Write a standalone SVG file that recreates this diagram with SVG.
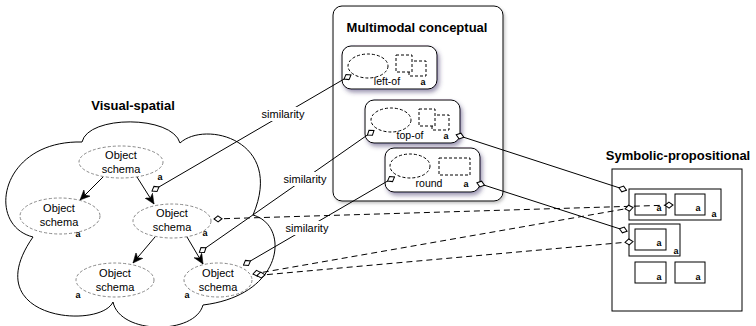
<svg xmlns="http://www.w3.org/2000/svg" width="756" height="326" viewBox="0 0 756 326">
<defs>
<style>
text{font-family:"Liberation Sans",Arial,Helvetica,sans-serif;fill:#000}
.t{font-size:11px;text-anchor:middle}
.ttl{font-size:13px;font-weight:bold;text-anchor:middle}
.a{font-size:9px;font-weight:bold;text-anchor:middle}
.sm{font-size:10.5px;text-anchor:middle}
.obj{fill:#fff;stroke:#888;stroke-width:1;stroke-dasharray:3,2}
.dsh{fill:none;stroke:#000;stroke-width:1;stroke-dasharray:3,2}
.dshw{fill:#fff;stroke:#000;stroke-width:1;stroke-dasharray:3,2}
.node{fill:#fff;stroke:#000;stroke-width:1}
.box{fill:#fff;stroke:#000;stroke-width:1}
.ln{fill:none;stroke:#000;stroke-width:1}
.dl{fill:none;stroke:#000;stroke-width:1;stroke-dasharray:6,4}
.arr{fill:none;stroke:#000;stroke-width:1;marker-end:url(#arrow)}
.sim{stroke:none;fill:#fff}
</style>
<marker id="arrow" markerUnits="userSpaceOnUse" markerWidth="11" markerHeight="9" refX="10" refY="4.5" orient="auto" viewBox="0 0 11 9">
<path d="M0,0 L10,4.5 L0,9 L3,4.5 Z" fill="#000" stroke="#000" stroke-width="0.5"/>
</marker>
<marker id="dia" markerUnits="userSpaceOnUse" markerWidth="10" markerHeight="8" refX="9" refY="4" orient="auto-start-reverse" viewBox="0 0 10 8">
<path d="M1,4 L5,1 L9,4 L5,7 Z" fill="#fff" stroke="#000" stroke-width="1"/>
</marker>
<filter id="shadow" x="-20%" y="-20%" width="150%" height="160%">
<feDropShadow dx="2" dy="3" stdDeviation="2.2" flood-color="#3c2f66" flood-opacity="0.5"/>
</filter>
<filter id="shadow2" x="-10%" y="-10%" width="130%" height="130%">
<feDropShadow dx="1.5" dy="2" stdDeviation="1.5" flood-color="#555" flood-opacity="0.35"/>
</filter>
</defs>

<!-- Visual-spatial -->
<g id="visual-spatial">
<text class="ttl" x="133" y="110">Visual-spatial</text>
<path class="ln" d="M33,237 C-15,225 0,140 82,142 C88,115 172,115 180,143 C205,120 285,140 253,215 C290,225 285,295 203,305 C195,335 120,335 113,302 C100,330 -25,320 33,237 Z" fill="#fff"/>
</g>
<g id="os1">
<ellipse class="obj" cx="121" cy="162" rx="42" ry="16"/>
<text class="t" x="121" y="159">Object</text>
<text class="t" x="121" y="172.5">schema</text>
<text class="a" x="160" y="180">a</text>
</g>
<g id="os2">
<ellipse class="obj" cx="60" cy="216" rx="40" ry="18"/>
<text class="t" x="59" y="212">Object</text>
<text class="t" x="59" y="226">schema</text>
<text class="a" x="78" y="237">a</text>
</g>
<g id="os3">
<ellipse class="obj" cx="172" cy="221" rx="39" ry="17"/>
<text class="t" x="172" y="217">Object</text>
<text class="t" x="172" y="231">schema</text>
<text class="a" x="205" y="236">a</text>
</g>
<g id="os4">
<ellipse class="obj" cx="115" cy="280" rx="39" ry="17"/>
<text class="t" x="115" y="277">Object</text>
<text class="t" x="115" y="291">schema</text>
<text class="a" x="78" y="298">a</text>
</g>
<g id="os5">
<ellipse class="obj" cx="218" cy="280" rx="34" ry="17"/>
<text class="t" x="218" y="277">Object</text>
<text class="t" x="218" y="291">schema</text>
<text class="a" x="187" y="298">a</text>
</g>

<!-- Multimodal conceptual -->
<g id="multimodal">
<rect class="box" x="333" y="6" width="170" height="195" rx="9" filter="url(#shadow2)"/>
<text class="ttl" x="417" y="32">Multimodal conceptual</text>
</g>
<g id="left-of">
<rect class="node" x="342" y="46" width="95" height="43" rx="9" filter="url(#shadow)"/>
<ellipse class="dsh" cx="368" cy="66" rx="20" ry="12"/>
<rect class="dsh" x="409" y="61" width="17" height="15"/>
<rect class="dshw" x="396" y="55" width="16" height="17"/>
<text class="sm" x="387" y="85">left-of</text>
<text class="a" x="423" y="85">a</text>
</g>
<g id="top-of">
<rect class="node" x="365" y="100" width="95" height="43" rx="9" filter="url(#shadow)"/>
<ellipse class="dsh" cx="391" cy="120" rx="20" ry="12"/>
<rect class="dsh" x="432" y="115" width="17" height="15"/>
<rect class="dshw" x="419" y="109" width="16" height="17"/>
<text class="sm" x="410" y="139">top-of</text>
<text class="a" x="446" y="139">a</text>
</g>
<g id="round">
<rect class="node" x="385" y="148" width="95" height="44" rx="9" filter="url(#shadow)"/>
<ellipse class="dsh" cx="410" cy="166" rx="20" ry="12"/>
<rect class="dsh" x="439" y="158" width="31" height="17"/>
<text class="sm" x="429" y="187">round</text>
<text class="a" x="466" y="187">a</text>
</g>

<!-- Symbolic-propositional -->
<g id="symbolic">
<text class="ttl" x="678" y="160">Symbolic-propositional</text>
<rect class="box" x="612" y="169" width="130" height="142"/>
</g>
<g id="sp-group1">
<rect class="box" x="629" y="189" width="92" height="31"/>
<text class="a" x="714" y="217">a</text>
</g>
<g id="sp-box1a">
<rect class="box" x="635" y="194" width="31" height="21"/>
<text class="a" x="659" y="211">a</text>
</g>
<g id="sp-box1b">
<rect class="box" x="675" y="194" width="30" height="21"/>
<text class="a" x="698" y="211">a</text>
</g>
<g id="sp-group2">
<rect class="box" x="629" y="224" width="51" height="32"/>
<text class="a" x="676" y="254">a</text>
</g>
<g id="sp-box2a">
<rect class="box" x="635" y="229" width="31" height="21"/>
<text class="a" x="659" y="246">a</text>
</g>
<g id="sp-box3">
<rect class="box" x="635" y="262" width="31" height="21"/>
<text class="a" x="659" y="280">a</text>
</g>
<g id="sp-box4">
<rect class="box" x="675" y="262" width="30" height="21"/>
<text class="a" x="698" y="280">a</text>
</g>

<!-- Connectors -->
<g id="connectors">
<line class="arr" x1="103" y1="177" x2="80" y2="200"/>
<line class="arr" x1="137" y1="177" x2="154" y2="204"/>
<line class="arr" x1="155" y1="237" x2="133" y2="263"/>
<line class="arr" x1="187" y1="237" x2="203" y2="264"/>

<line class="ln" x1="351" y1="75" x2="152" y2="191" marker-start="url(#dia)" marker-end="url(#dia)"/>
<line class="ln" x1="374" y1="130.4" x2="199.4" y2="252.3" marker-start="url(#dia)" marker-end="url(#dia)"/>
<line class="ln" x1="394.5" y1="177" x2="243.5" y2="265" marker-start="url(#dia)" marker-end="url(#dia)"/>

<line class="ln" x1="456.2" y1="134.8" x2="626.5" y2="190.2" marker-start="url(#dia)" marker-end="url(#dia)"/>
<line class="ln" x1="476.9" y1="182.8" x2="627.1" y2="231.2" marker-start="url(#dia)" marker-end="url(#dia)"/>

<line class="dl" x1="214" y1="219" x2="673" y2="205" marker-start="url(#dia)" marker-end="url(#dia)"/>
<line class="dl" x1="253" y1="274" x2="633" y2="207.5" marker-start="url(#dia)" marker-end="url(#dia)"/>
<line class="dl" x1="257" y1="275.5" x2="633" y2="241.6" marker-start="url(#dia)" marker-end="url(#dia)"/>

<rect class="sim" x="260" y="107" width="46" height="14"/>
<text class="t" x="283" y="118">similarity</text>
<rect class="sim" x="282" y="172" width="46" height="14"/>
<text class="t" x="305" y="183">similarity</text>
<rect class="sim" x="284" y="221" width="46" height="14"/>
<text class="t" x="307" y="232">similarity</text>
</g>
</svg>
